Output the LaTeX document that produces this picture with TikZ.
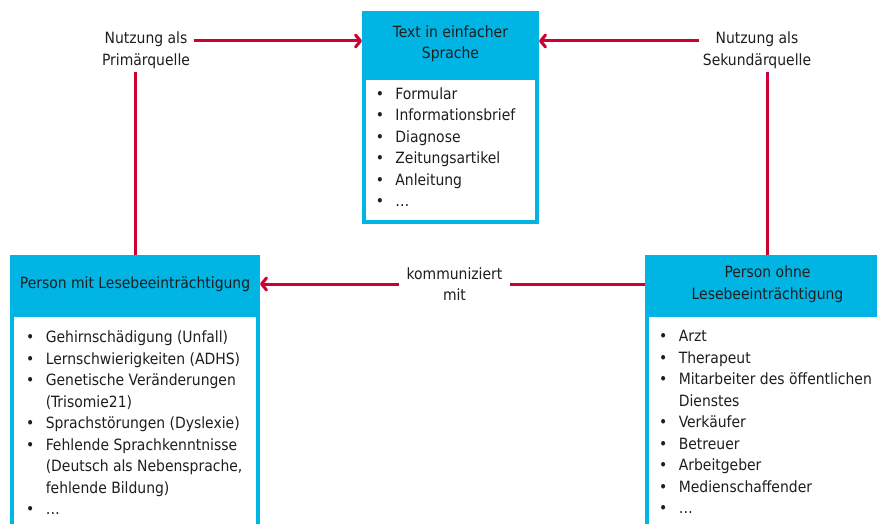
\documentclass[tikz,border=0pt]{standalone}
\usepackage{fontspec}
\setmainfont{DejaVu Sans Condensed}
\usetikzlibrary{arrows.meta,positioning}
\definecolor{kasten}{RGB}{0,180,228}
\definecolor{pfeilrot}{RGB}{204,0,51}
\definecolor{schrift}{RGB}{30,30,30}
\newcommand{\pkt}{\makebox[19.6pt][l]{\textbullet}}
\newcommand{\weiter}{\hspace*{19.6pt}}
\tikzset{
  kopf/.style={draw=kasten,fill=kasten,line width=4pt,align=center},
  rumpf/.style={draw=kasten,fill=white,line width=4pt,anchor=north},
  liste/.style={anchor=north west,inner sep=0pt,align=left},
  beschr/.style={align=center},
  linie/.style={draw=pfeilrot,line width=3pt},
  pfeil/.style={linie,-{Straight Barb[length=5pt,width=12pt,round]}}
}
\begin{document}
\begin{tikzpicture}[x=1pt,y=-1pt,font={\fontsize{15.5}{21.5}\selectfont},text=schrift]
      \useasboundingbox (0,0) rectangle (877,524);
      \clip (0,0) rectangle (877,524);
      % Kaesten
      \node[kopf,minimum width=173pt,minimum height=61pt](hdrText) at(450.5,43.5){Text in einfacher\\Sprache};
      \node[rumpf,minimum width=173pt,minimum height=144pt](bodyText) at(hdrText.south){};
      \node[kopf,minimum width=246pt,minimum height=54pt](hdrMit) at(135,284){Person mit Lesebeeinträchtigung};
      \node[rumpf,minimum width=246pt,minimum height=260pt](bodyMit) at(hdrMit.south){};
      \node[kopf,minimum width=241pt,minimum height=54pt](hdrOhne) at(767.5,284){Person ohne\\Lesebeeinträchtigung};
      \node[rumpf,minimum width=241pt,minimum height=260pt](bodyOhne) at(hdrOhne.south){};
      % Listen
      \node[liste](lstText) at([xshift=13.6pt,yshift=-11.5pt]bodyText.north west){
        \pkt Formular\\
        \pkt Informationsbrief\\
        \pkt Diagnose\\
        \pkt Zeitungsartikel\\
        \pkt Anleitung\\
        \pkt\dots};
      \node[liste](lstMit) at([xshift=16pt,yshift=-18pt]bodyMit.north west){
        \pkt Gehirnschädigung (Unfall)\\
        \pkt Lernschwierigkeiten (ADHS)\\
        \pkt Genetische Veränderungen\\
        \weiter(Trisomie21)\\
        \pkt Sprachstörungen (Dyslexie)\\
        \pkt Fehlende Sprachkenntnisse\\
        \weiter(Deutsch als Nebensprache,\\
        \weiter fehlende Bildung)\\
        \pkt\dots};
      \node[liste](lstOhne) at([xshift=14pt,yshift=-17pt]bodyOhne.north west){
        \pkt Arzt\\
        \pkt Therapeut\\
        \pkt Mitarbeiter des öffentlichen\\
        \weiter Dienstes\\
        \pkt Verkäufer\\
        \pkt Betreuer\\
        \pkt Arbeitgeber\\
        \pkt Medienschaffender\\
        \pkt\dots};
      % Beschriftungen
      \node[beschr](lblPrim) at(146,50){Nutzung als\\Primärquelle};
      \node[beschr](lblSek) at(757,50){Nutzung als\\Sekundärquelle};
      % Verbindungen
      \draw[pfeil]([yshift=9pt]lblPrim.east)--([yshift=2.5pt]hdrText.west);
      \draw[pfeil]([yshift=9pt]lblSek.west)--([yshift=2.5pt]hdrText.east);
      \foreach \x/\y in {lblPrim/hdrMit, lblSek/hdrOhne}{
        \draw[linie](\x.south -| \y.north)--(\y.north);
      }
      \draw[pfeil](hdrOhne.west)--node[beschr,fill=white,inner xsep=8pt,xshift=2pt](lblKomm){kommuniziert\\mit}(hdrMit.east);
    \end{tikzpicture}
\end{document}
